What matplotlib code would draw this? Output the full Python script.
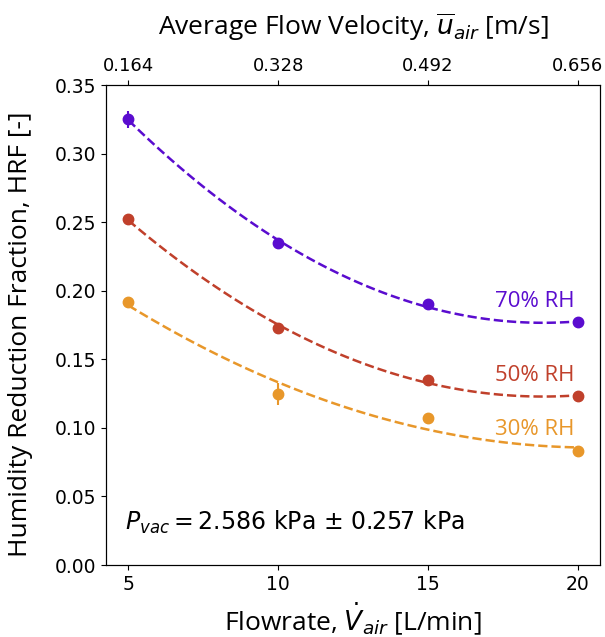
import numpy as np
import matplotlib
matplotlib.use('Agg')
from matplotlib import pyplot as plt

# data
flow = [5, 10, 15, 20]                       # L/min
vel_labels = ['0.164', '0.328', '0.492', '0.656']
hrf_70 = [0.325, 0.235, 0.190, 0.177]
hrf_50 = [0.252, 0.173, 0.135, 0.123]
hrf_30 = [0.192, 0.125, 0.107, 0.083]
err_70 = [0.006, 0.003, 0.002, 0.002]
err_50 = [0.002, 0.002, 0.002, 0.002]
err_30 = [0.002, 0.008, 0.003, 0.002]

series = [
    ('70% RH', hrf_70, err_70, '#5a0ccf', 0.192),
    ('50% RH', hrf_50, err_50, '#c0402b', 0.138),
    ('30% RH', hrf_30, err_30, '#e8972a', 0.099),
]

label_font = ['Open Sans', 'DejaVu Sans']

fig = plt.figure(figsize=(6.05, 6.37), dpi=100)
ax = fig.add_axes([0.1752, 0.1130, 0.8165, 0.7535])

xfit = np.linspace(5, 20, 100)
for name, y, e, c, ty in series:
    ax.errorbar(flow, y, yerr=e, fmt='o', color=c, ms=7.5, elinewidth=1.5, capsize=0)
    p = np.polyfit(flow, y, 2)
    ax.plot(xfit, np.polyval(p, xfit), '--', color=c, lw=1.8)
    ax.text(19.9, ty, name, color=c, ha='right', va='center', fontsize=16, family=label_font)

ax.set_ylim(0, 0.35)
ax.set_yticks(np.arange(0, 0.351, 0.05))
ax.set_xticks(flow)
ax.tick_params(labelsize=13.5)
ax.set_xlabel(r'Flowrate, $\dot{V}_{air}$ [L/min]', fontsize=19, family=label_font, labelpad=5)
ax.set_ylabel('Humidity Reduction Fraction, HRF [-]', fontsize=19, family=label_font)
ax.yaxis.set_label_coords(-0.147, 0.48)

ax.text(4.9, 0.031, r'$P_{vac} = 2.586$ kPa $\pm$ 0.257 kPa', fontsize=17, va='center')

ax2 = ax.twiny()
ax2.set_xlim(ax.get_xlim())
ax2.set_xticks(flow)
ax2.set_xticklabels(vel_labels)
ax2.tick_params(labelsize=13)
ax2.set_xlabel(r'Average Flow Velocity, $\overline{u}_{air}$ [m/s]', fontsize=19,
               family=label_font, labelpad=16)

fig.savefig('out.png', dpi=100)
